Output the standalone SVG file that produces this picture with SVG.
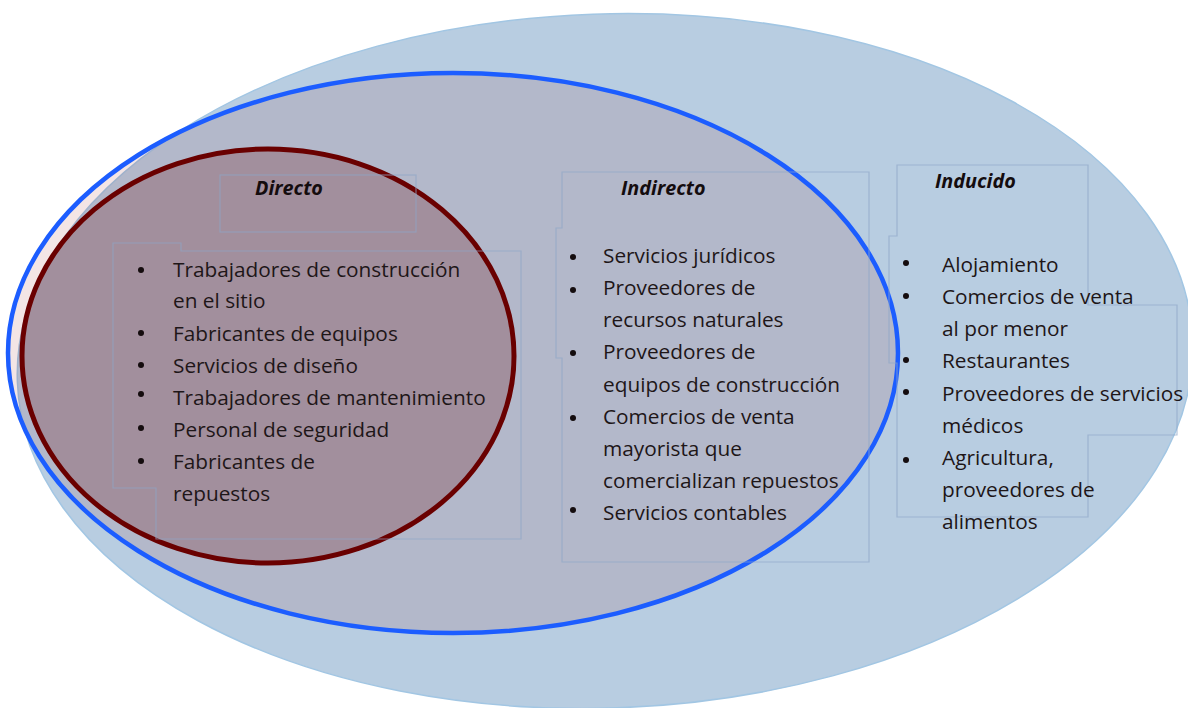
<svg xmlns="http://www.w3.org/2000/svg" width="1188" height="708" viewBox="0 0 1188 708">
  <style>
    .txt { font-family: "Open Sans", "Noto Sans", "Liberation Sans", sans-serif; font-size: 20.8px; fill: #1e1618; }
    .ttl { font-family: "Open Sans", "Noto Sans", "Liberation Sans", sans-serif; font-size: 19.8px; font-weight: bold; font-style: italic; fill: #140c0e; }
    .box { fill: none; stroke: #8ea6c6; stroke-opacity: 0.65; stroke-width: 1.2; }
    .dot { fill: #140c0e; }
  </style>
  <rect width="1188" height="708" fill="#ffffff"/>

  <g id="outer-ellipse">
    <ellipse cx="605" cy="361" rx="588" ry="347" transform="rotate(-2 605 361)" fill="#b8cde1" stroke="#a2c6e3" stroke-width="1.5"/>
  </g>
  <g id="blue-ellipse">
    <ellipse cx="453" cy="353" rx="445" ry="280" fill="#860000" fill-opacity="0.1" stroke="#1c5dff" stroke-width="4.5"/>
  </g>
  <g id="red-ellipse">
    <ellipse cx="268" cy="356" rx="246" ry="207" fill="#6b0000" fill-opacity="0.22" stroke="#6a0000" stroke-width="5"/>
  </g>

  <g id="directo">
    <rect class="box" x="220" y="175" width="196" height="57"/>
    <text class="ttl" x="255" y="195">Directo</text>
    <path class="box" d="M113,243 H181 V251 H521 V539 H156 V488 H113 Z"/>
    <g class="dot">
      <circle cx="141" cy="270" r="3"/><circle cx="141" cy="333" r="3"/><circle cx="141" cy="365" r="3"/>
      <circle cx="141" cy="394" r="3"/><circle cx="141" cy="428" r="3"/><circle cx="141" cy="461" r="3"/>
    </g>
    <g class="txt">
      <text x="173" y="277">Trabajadores de construcción</text>
      <text x="173" y="308">en el sitio</text>
      <text x="173" y="341">Fabricantes de equipos</text>
      <text x="173" y="373">Servicios de diseño</text>
      <text x="173" y="405">Trabajadores de mantenimiento</text>
      <text x="173" y="437">Personal de seguridad</text>
      <text x="173" y="469">Fabricantes de</text>
      <text x="173" y="501">repuestos</text>
    </g>
  </g>

  <g id="indirecto">
    <path class="box" d="M562,172 H869 V562 H562 V358 H556 V228 H562 Z"/>
    <text class="ttl" x="621" y="195">Indirecto</text>
    <g class="dot">
      <circle cx="573" cy="257" r="3"/><circle cx="573" cy="290" r="3"/><circle cx="573" cy="353" r="3"/>
      <circle cx="573" cy="418" r="3"/><circle cx="573" cy="510" r="3"/>
    </g>
    <g class="txt">
      <text x="603" y="263">Servicios jurídicos</text>
      <text x="603" y="295">Proveedores de</text>
      <text x="603" y="327">recursos naturales</text>
      <text x="603" y="359">Proveedores de</text>
      <text x="603" y="392">equipos de construcción</text>
      <text x="603" y="424">Comercios de venta</text>
      <text x="603" y="456">mayorista que</text>
      <text x="603" y="488">comercializan repuestos</text>
      <text x="603" y="520">Servicios contables</text>
    </g>
  </g>

  <g id="inducido">
    <path class="box" d="M897,165 H1088 V305 H1177 V435 H1088 V517 H897 V363 H889 V236 H897 Z"/>
    <text class="ttl" x="935" y="188">Inducido</text>
    <g class="dot">
      <circle cx="906" cy="263" r="3"/><circle cx="906" cy="296" r="3"/><circle cx="906" cy="360" r="3"/>
      <circle cx="906" cy="392" r="3"/><circle cx="906" cy="460" r="3"/>
    </g>
    <g class="txt">
      <text x="942" y="272">Alojamiento</text>
      <text x="942" y="304">Comercios de venta</text>
      <text x="942" y="336">al por menor</text>
      <text x="942" y="368">Restaurantes</text>
      <text x="942" y="401">Proveedores de servicios</text>
      <text x="942" y="433">médicos</text>
      <text x="942" y="465">Agricultura,</text>
      <text x="942" y="497">proveedores de</text>
      <text x="942" y="529">alimentos</text>
    </g>
  </g>
</svg>
